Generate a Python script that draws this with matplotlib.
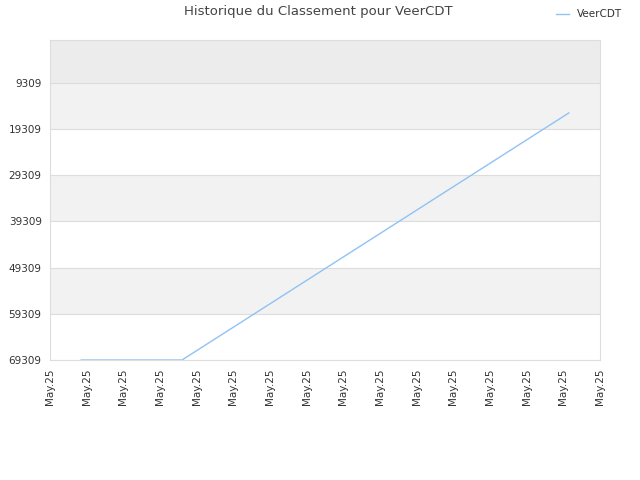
import matplotlib
matplotlib.use("Agg")
import matplotlib.pyplot as plt

# data
tick_labels = ["May.25"] * 16
x_points = [0.85, 3.6, 14.15]
rank_values = [69309, 69309, 15800]
y_ticks = [9309, 19309, 29309, 39309, 49309, 59309, 69309]
series_name = "VeerCDT"

fig = plt.figure(figsize=(6.4, 4.8), dpi=100)
ax = fig.add_axes([50 / 640, 1 - 360 / 480, 550 / 640, 320 / 480])

# alternating bands behind the plot
band_edges = [0] + y_ticks
band_colors = ["#ececec", "#f2f2f2", "#ffffff", "#f2f2f2", "#ffffff", "#f2f2f2", "#ffffff"]
for i in range(len(band_edges) - 1):
    ax.axhspan(band_edges[i], band_edges[i + 1], color=band_colors[i], zorder=0, lw=0)
for t in y_ticks:
    ax.axhline(t, color="#dddddd", lw=0.8, zorder=1)

ax.plot(x_points, rank_values, color="#90c2f4", lw=1, label=series_name, zorder=3)

ax.set_xlim(0, 15)
ax.set_ylim(69309, 0)
ax.set_xticks(range(len(tick_labels)))
ax.set_xticklabels(tick_labels, rotation=90, fontsize=7.5, color="#333333")
ax.set_yticks(y_ticks)
ax.set_yticklabels([str(t) for t in y_ticks], fontsize=7.5, color="#333333")
ax.tick_params(length=0, pad=6)
for s in ax.spines.values():
    s.set_color("#dddddd")

fig.text(318 / 640, 1 - 12 / 480, "Historique du Classement pour VeerCDT",
         ha="center", va="center", fontsize=9.5, color="#444444")
fig.legend(loc="upper right", bbox_to_anchor=(0.987, 1.0), frameon=False, fontsize=7.5,
           handlelength=1.2, labelcolor="#333333")

fig.savefig("out.png", dpi=100)
